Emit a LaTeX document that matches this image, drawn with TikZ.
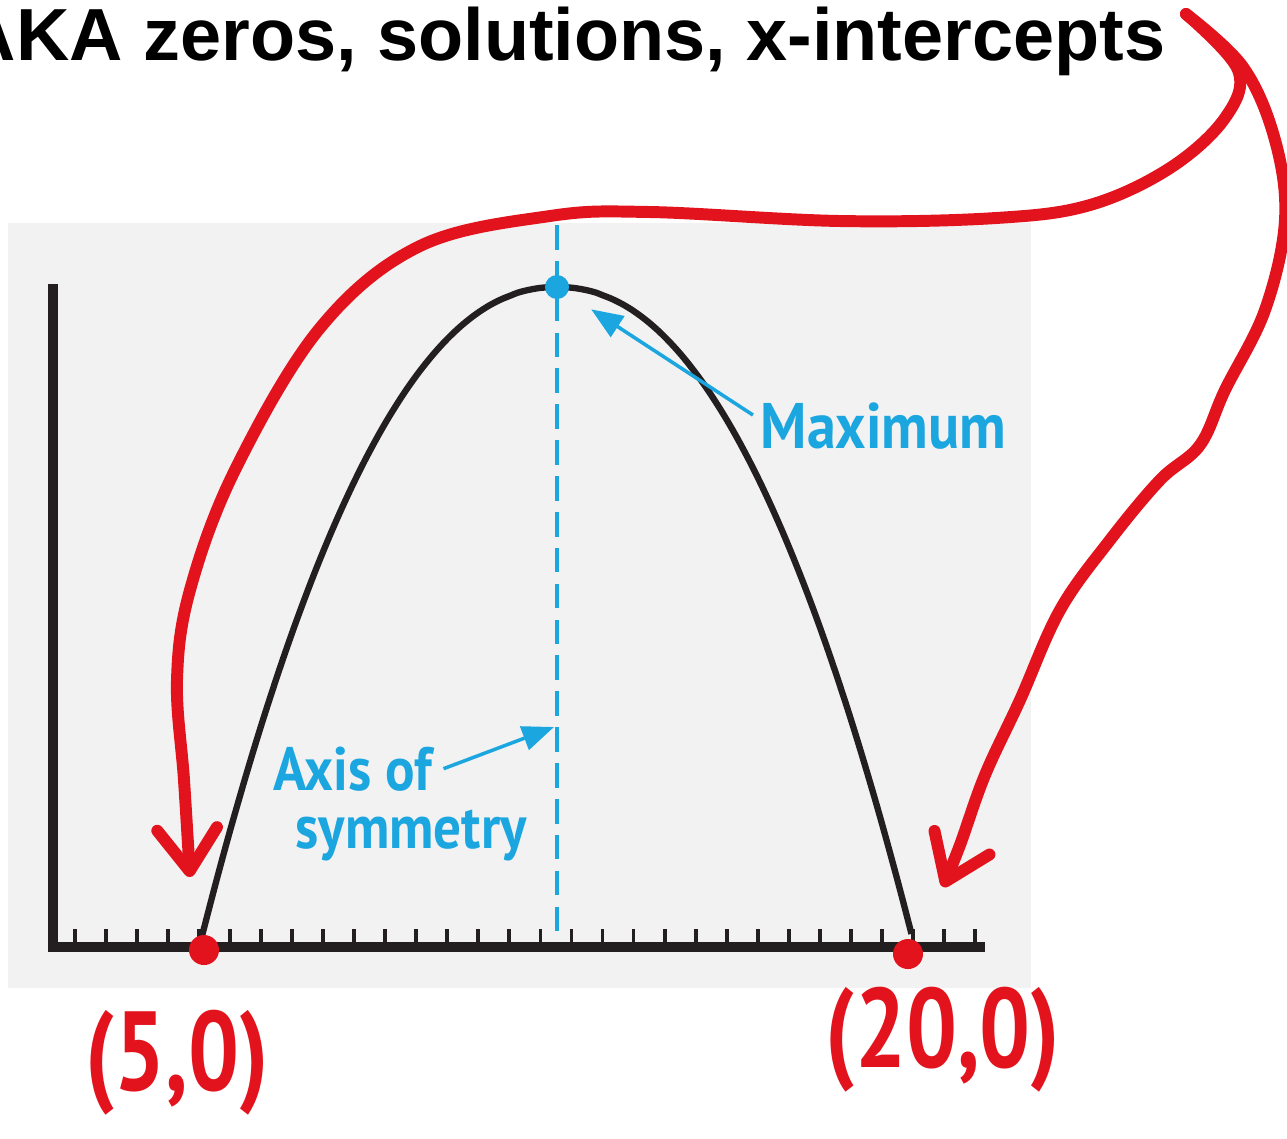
\documentclass[tikz,border=0pt]{standalone}
\usepackage{fontspec}
\newfontfamily\titlefont{Liberation Sans}
\newfontfamily\notefont[FakeStretch=0.9]{PT Sans}
\newfontfamily\handfont[FakeStretch=0.8]{PT Sans}
\usetikzlibrary{arrows.meta,positioning}
\definecolor{Panel}{HTML}{F2F2F2}
\definecolor{Ink}{HTML}{231F20}
\definecolor{Sky}{HTML}{1CA6E0}
\definecolor{Marker}{HTML}{E3131E}
\tikzset{
  axisline/.style={draw=Ink,line width=3pt},
  tickmark/.style={draw=Ink,line width=1.1pt},
  curve/.style={draw=Ink,line width=1.8pt},
  guide/.style={draw=Sky,line width=0.9pt,dash pattern=on 7pt off 3.2pt},
  note/.style={text=Sky,font=\notefont\bfseries\fontsize{18.3pt}{22pt}\selectfont,inner sep=0pt},
  smallnote/.style={note,font=\notefont\bfseries\fontsize{17.4pt}{20pt}\selectfont},
  pointer/.style={-{Triangle[length=9pt,width=7pt]},draw=Sky,line width=1pt},
  pen/.style={draw=Marker,line width=3.4pt,line cap=round,line join=round},
  penarrow/.style={pen,-{Straight Barb[length=12pt,width=17pt,round]}},
  handnote/.style={text=Marker,font=\handfont\bfseries\fontsize{32pt}{38pt}\selectfont,inner sep=0pt},
  peakdot/.style={circle,fill=Sky,minimum size=0.24cm,inner sep=0pt},
  rootdot/.style={circle,fill=Marker,minimum size=0.3cm,inner sep=0pt}
}
\begin{document}
\begin{tikzpicture}[x=0.01cm,y=-0.01cm]
  \useasboundingbox (0,0) rectangle (1287,1138);
  \fill[Panel] (8,223) rectangle (1031,988);
  \node[anchor=base east,inner sep=0pt,font=\titlefont\bfseries\fontsize{21pt}{25pt}\selectfont] (title) at (1166,60) {AKA zeros, solutions, x-intercepts};
  % axes and ticks
  \draw[axisline] (53,284) -- (53,952);
  \draw[axisline] (48,947) -- (985,947);
  \foreach \k in {0,...,29}
    \draw[tickmark] ({75+31.03*\k},929) -- ++(0,14);
  % symmetry line and curve
  \draw[guide] (557,225) -- (557,942);
  \draw[curve] plot[domain=-1:1,samples=100,smooth] ({557+355*\x},{287+649*abs(\x)^2.15});
  \node[peakdot] (peak) at (557,287) {};
  \node[note,anchor=base west] (maxnote) at (760,448) {Maximum};
  \node[smallnote,anchor=base west] (axisnote) at (273,790) {Axis of};
  \node[smallnote,anchor=base west] (symnote) at (295,848) {symmetry};
  \coordinate (axispt) at (554,727);
  \draw[pointer,shorten >=8pt] ([shift={(-2pt,3pt)}]maxnote.west) -- (peak);
  \draw[pointer] ([xshift=3pt]axisnote.east) -- (axispt);
  % red marks
  \coordinate (hook) at (1186,14);
  \coordinate (tipL) at (190,877);
  \coordinate (tipR) at (943,887);
  \node[rootdot] (rootL) at (204,950) {};
  \node[rootdot] (rootR) at (908,954) {};
  \draw[penarrow] plot[smooth,tension=0.6] coordinates {(hook) (1238,70) (1225,118) (1170,168) (1090,205) (996,218) (840,221) (650,212) (550,216) (420,246) (320,328) (235,470) (190,590) (177,680) (184,780) (tipL)};
  \draw[penarrow] plot[smooth,tension=0.6] coordinates {(hook) (1243,67) (1275,140) (1285,220) (1265,310) (1225,390) (1200,445) (1160,480) (1110,540) (1060,610) (1020,700) (985,775) (960,845) (tipR)};
  \node[handnote] (labelL) at (177,1063) {(5,0)};
  \node[handnote] (labelR) at (943,1040) {(20,0)};
\end{tikzpicture}
\end{document}
